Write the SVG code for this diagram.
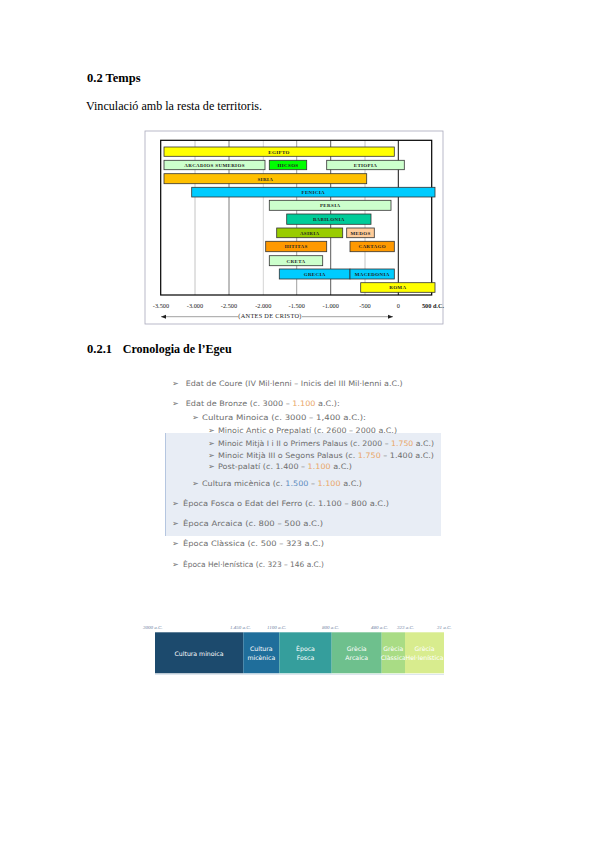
<svg xmlns="http://www.w3.org/2000/svg" width="599" height="848" viewBox="0 0 599 848">
<style>
.h{font-family:"Liberation Serif",serif;font-weight:bold;font-size:12.5px;fill:#000}
.p{font-family:"Liberation Serif",serif;font-size:12px;fill:#000}
.bar{stroke:#333;stroke-width:0.8}
.bl{font-family:"Liberation Serif",serif;font-weight:bold;font-size:5px;fill:#222;text-anchor:middle;letter-spacing:0.35px}
.ax{font-family:"Liberation Serif",serif;font-size:6.3px;fill:#222;text-anchor:middle}
.li{font-family:"DejaVu Sans",sans-serif;font-size:7.5px;fill:#6e6e6e}
.bu{font-family:"DejaVu Sans",sans-serif;font-size:8px;fill:#6e6e6e}
.or{fill:#e9a667}
.bl2{fill:#5d8cc0}
.seg{font-family:"DejaVu Sans",sans-serif;font-size:6.2px;fill:#fff;text-anchor:middle}
.tl{font-family:"Liberation Serif",serif;font-style:italic;font-size:5px;fill:#6f7f9f}
</style>
<defs>
<marker id="ar" markerWidth="6" markerHeight="6" refX="5" refY="3" orient="auto-start-reverse" markerUnits="userSpaceOnUse">
<path d="M0,1 L5,3 L0,5 z" fill="#222"/>
</marker>
</defs>

<text class="h" x="87" y="82">0.2 Temps</text>
<text class="p" x="86" y="110" textLength="176" lengthAdjust="spacingAndGlyphs">Vinculació amb la resta de territoris.</text>

<g id="chart">
<rect x="145" y="131" width="298" height="193" fill="#fff" stroke="#a9a9bb" stroke-width="0.8"/>
<g id="grid">
<line x1="195" y1="140.3" x2="195" y2="295" stroke="#c4c4c4" stroke-width="1"/>
<line x1="229" y1="140.3" x2="229" y2="295" stroke="#7c7c7c" stroke-width="1"/>
<line x1="263.3" y1="140.3" x2="263.3" y2="295" stroke="#d4d4d4" stroke-width="1"/>
<line x1="296.7" y1="140.3" x2="296.7" y2="295" stroke="#a0a0a0" stroke-width="1"/>
<line x1="330.7" y1="140.3" x2="330.7" y2="295" stroke="#5a5a5a" stroke-width="1"/>
<line x1="365" y1="140.3" x2="365" y2="295" stroke="#c4c4c4" stroke-width="1"/>
<line x1="398.3" y1="140.3" x2="398.3" y2="295" stroke="#111" stroke-width="1"/>
</g>
<rect x="160.7" y="140.3" width="271" height="154.7" fill="none" stroke="#000" stroke-width="1.2"/>

<g id="egipto"><rect class="bar" x="164" y="147" width="230.3" height="9.3" fill="#ffff00"/><text class="bl" x="279" y="153.5">EGIPTO</text></g>
<g id="acadios"><rect class="bar" x="164" y="160.3" width="101" height="9.4" fill="#ccffcc"/><text class="bl" x="214.5" y="166.8">ARCADIOS  SUMERIOS</text></g>
<g id="hicsos"><rect class="bar" x="269.3" y="160.3" width="37.4" height="9.4" fill="#00ff00"/><text class="bl" x="288" y="166.8">HICSOS</text></g>
<g id="etiopia"><rect class="bar" x="326.7" y="160.3" width="77.6" height="9.4" fill="#ccffcc"/><text class="bl" x="365.5" y="166.8">ETIOPIA</text></g>
<g id="siria"><rect class="bar" x="164" y="173.7" width="202.7" height="10" fill="#ffc000"/><text class="bl" x="265.3" y="180.5">SIRIA</text></g>
<g id="fenicia"><rect class="bar" x="191.7" y="187.3" width="243.3" height="9.7" fill="#00ccff"/><text class="bl" x="313.3" y="194">FENICIA</text></g>
<g id="persia"><rect class="bar" x="269.3" y="200.3" width="121.7" height="10" fill="#ccffcc"/><text class="bl" x="330.2" y="207.1">PERSIA</text></g>
<g id="babilonia"><rect class="bar" x="286.7" y="214" width="84.3" height="10.3" fill="#00cc99"/><text class="bl" x="328.8" y="221">BABILONIA</text></g>
<g id="asiria"><rect class="bar" x="276.7" y="228" width="66" height="9.7" fill="#99cc00"/><text class="bl" x="309.7" y="234.7">ASIRIA</text></g>
<g id="medos"><rect class="bar" x="346.7" y="228" width="27.6" height="9.7" fill="#ffcc99"/><text class="bl" x="360.5" y="234.7">MEDOS</text></g>
<g id="hititas"><rect class="bar" x="265.7" y="241.3" width="61" height="10.4" fill="#ff9900"/><text class="bl" x="296.2" y="248.3">HITITAS</text></g>
<g id="cartago"><rect class="bar" x="350" y="241.3" width="44.3" height="10.4" fill="#ff9900"/><text class="bl" x="372.2" y="248.3">CARTAGO</text></g>
<g id="creta"><rect class="bar" x="269.3" y="255.7" width="53.4" height="10" fill="#ccffcc"/><text class="bl" x="296" y="262.5">CRETA</text></g>
<g id="grecia"><rect class="bar" x="279.3" y="269" width="70.7" height="10" fill="#00ccff"/><text class="bl" x="314.7" y="275.8">GRECIA</text></g>
<g id="macedonia"><rect class="bar" x="350" y="269" width="44.3" height="10" fill="#00ccff"/><text class="bl" x="372.2" y="275.8">MACEDONIA</text></g>
<g id="roma"><rect class="bar" x="360.7" y="282.7" width="74.3" height="9.6" fill="#ffff00"/><text class="bl" x="397.8" y="289.3">ROMA</text></g>

<g id="axis">
<text class="ax" x="161" y="308">-3.500</text>
<text class="ax" x="195" y="308">-3.000</text>
<text class="ax" x="229" y="308">-2.500</text>
<text class="ax" x="263.3" y="308">-2.000</text>
<text class="ax" x="296.7" y="308">-1.500</text>
<text class="ax" x="330.7" y="308">-1.000</text>
<text class="ax" x="365" y="308">-500</text>
<text class="ax" x="398.3" y="308">0</text>
<text class="ax" x="433" y="308" font-weight="bold">500 d.C.</text>
</g>
<line x1="161" y1="316.7" x2="393" y2="316.7" stroke="#444" stroke-width="0.5" marker-start="url(#ar)" marker-end="url(#ar)"/>
<rect x="238" y="313" width="64" height="5" fill="#fff"/>
<text class="ax" x="270" y="317.5" font-size="4.8" letter-spacing="0.3">(ANTES DE CRISTO)</text>
</g>

<text class="h" x="87" y="353">0.2.1</text>
<text class="h" x="122.7" y="353" textLength="109" lengthAdjust="spacingAndGlyphs">Cronologia de l’Egeu</text>

<g id="list">
<rect x="165" y="433" width="276" height="103" fill="#e8edf5"/>
<line x1="165.5" y1="433" x2="165.5" y2="536" stroke="#b5c6e0" stroke-width="1"/>
<text class="bu" x="172" y="386">➢</text>
<text class="li" x="185.7" y="386" textLength="217" lengthAdjust="spacingAndGlyphs">Edat de Coure (IV Mil·lenni – Inicis del III Mil·lenni a.C.)</text>
<text class="bu" x="172" y="406">➢</text>
<text class="li" x="185.7" y="406" textLength="154" lengthAdjust="spacingAndGlyphs">Edat de Bronze (c. 3000 – <tspan class="or">1.100</tspan> a.C.):</text>
<text class="bu" x="192" y="420.3">➢</text>
<text class="li" x="202" y="420.3" textLength="164" lengthAdjust="spacingAndGlyphs">Cultura Minoica (c. 3000 – 1,400 a.C.):</text>
<text class="bu" x="208" y="432.7">➢</text>
<text class="li" x="218" y="432.7" textLength="179" lengthAdjust="spacingAndGlyphs">Minoic Antic o Prepalatí (c. 2600 – 2000 a.C.)</text>
<text class="bu" x="208" y="446">➢</text>
<text class="li" x="218" y="446" textLength="216" lengthAdjust="spacingAndGlyphs">Minoic Mitjà I i II o Primers Palaus (c. 2000 – <tspan class="or">1.750</tspan> a.C.)</text>
<text class="bu" x="208" y="457.7">➢</text>
<text class="li" x="218" y="457.7" textLength="216" lengthAdjust="spacingAndGlyphs">Minoic Mitjà III o Segons Palaus (c. <tspan class="or">1.750</tspan> – 1.400 a.C.)</text>
<text class="bu" x="208" y="469.3">➢</text>
<text class="li" x="218" y="469.3" textLength="134" lengthAdjust="spacingAndGlyphs">Post-palatí (c. 1.400 – <tspan class="or">1.100</tspan> a.C.)</text>
<text class="bu" x="192" y="486">➢</text>
<text class="li" x="202" y="486" textLength="160" lengthAdjust="spacingAndGlyphs">Cultura micènica (c. <tspan class="bl2">1.500</tspan> – <tspan class="or">1.100</tspan> a.C.)</text>
<text class="bu" x="172" y="506">➢</text>
<text class="li" x="183" y="506" textLength="206" lengthAdjust="spacingAndGlyphs">Època Fosca o Edat del Ferro (c. 1.100 – 800 a.C.)</text>
<text class="bu" x="172" y="526">➢</text>
<text class="li" x="183" y="526" textLength="140" lengthAdjust="spacingAndGlyphs">Època Arcaica (c. 800 – 500 a.C.)</text>
<text class="bu" x="172" y="546">➢</text>
<text class="li" x="183" y="546" textLength="141" lengthAdjust="spacingAndGlyphs">Època Clàssica (c. 500 – 323 a.C.)</text>
<text class="bu" x="172" y="566.7">➢</text>
<text class="li" x="183" y="566.7" textLength="141" lengthAdjust="spacingAndGlyphs">Època Hel·lenística (c. 323 – 146 a.C.)</text>
</g>

<g id="timeline">
<text class="tl" x="143" y="629">3000 a.C.</text>
<text class="tl" x="230" y="629">1.450 a.C.</text>
<text class="tl" x="267" y="629">1100 a.C.</text>
<text class="tl" x="322" y="629">800 a.C.</text>
<text class="tl" x="371" y="629">480 a.C.</text>
<text class="tl" x="397" y="629">323 a.C.</text>
<text class="tl" x="437" y="629">31 a.C.</text>
<g id="seg1"><rect x="155" y="632.3" width="88.3" height="41" fill="#1c4a6d"/><text class="seg" x="199" y="655.5">Cultura minoica</text></g>
<g id="seg2"><rect x="243.3" y="632.3" width="36" height="41" fill="#1f6e9b"/><text class="seg" x="261.3" y="651">Cultura</text><text class="seg" x="261.3" y="659.5">micènica</text></g>
<g id="seg3"><rect x="279.3" y="632.3" width="52.4" height="41" fill="#359e9c"/><text class="seg" x="305.5" y="651">Època</text><text class="seg" x="305.5" y="659.5">Fosca</text></g>
<g id="seg4"><rect x="331.7" y="632.3" width="50" height="41" fill="#6ec08d"/><text class="seg" x="356.7" y="651">Grècia</text><text class="seg" x="356.7" y="659.5">Arcaica</text></g>
<g id="seg5"><rect x="381.7" y="632.3" width="23.3" height="41" fill="#a9dc85"/><text class="seg" x="393.3" y="651">Grècia</text><text class="seg" x="393.3" y="659.5">Clàssica</text></g>
<g id="seg6"><rect x="405" y="632.3" width="39" height="41" fill="#d8ec8e"/><text class="seg" x="424.5" y="651">Grècia</text><text class="seg" x="424.5" y="659.5">Hel·lenística</text></g>
<line x1="155" y1="674.5" x2="444" y2="674.5" stroke="#dde6ee" stroke-width="1"/>
</g>
</svg>
